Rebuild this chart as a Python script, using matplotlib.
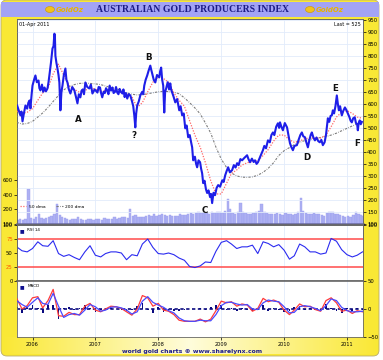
import numpy as np
import pandas as pd
import matplotlib
matplotlib.use("Agg")
import matplotlib.pyplot as plt
import matplotlib.dates as mdates
from matplotlib.patches import Rectangle, FancyBboxPatch, Ellipse
from matplotlib.lines import Line2D

plt.rcParams['path.simplify'] = False

# ---- data ----
price_dates = [
    '2005-10-04', '2005-10-12', '2005-10-23', '2005-10-29', '2005-11-04', '2005-11-12',
    '2005-11-21', '2005-12-01', '2005-12-08', '2005-12-15', '2005-12-20', '2005-12-27',
    '2006-01-01', '2006-01-10', '2006-01-18', '2006-01-26', '2006-02-05', '2006-02-10',
    '2006-02-16', '2006-02-25', '2006-03-04', '2006-03-12', '2006-03-20', '2006-03-29',
    '2006-04-04', '2006-04-09', '2006-04-18', '2006-04-27', '2006-05-03', '2006-05-08',
    '2006-05-11', '2006-05-14', '2006-05-20', '2006-05-26', '2006-06-01', '2006-06-06',
    '2006-06-12', '2006-06-18', '2006-06-24', '2006-07-02', '2006-07-11', '2006-07-17',
    '2006-07-23', '2006-07-31', '2006-08-09', '2006-08-20', '2006-09-01', '2006-09-10',
    '2006-09-19', '2006-09-27', '2006-10-06', '2006-10-13', '2006-10-20', '2006-10-27',
    '2006-11-04', '2006-11-15', '2006-11-27', '2006-12-06', '2006-12-15', '2006-12-28',
    '2007-01-13', '2007-01-20', '2007-01-28', '2007-02-03', '2007-02-10', '2007-02-18',
    '2007-02-25', '2007-03-04', '2007-03-11', '2007-03-18', '2007-03-25', '2007-04-02',
    '2007-04-10', '2007-04-17', '2007-04-25', '2007-05-01', '2007-05-08', '2007-05-15',
    '2007-05-22', '2007-05-29', '2007-06-07', '2007-06-13', '2007-06-20', '2007-06-27',
    '2007-07-05', '2007-07-14', '2007-07-23', '2007-08-02', '2007-08-09', '2007-08-15',
    '2007-08-21', '2007-08-26', '2007-09-01', '2007-09-10', '2007-09-19', '2007-09-30',
    '2007-10-06', '2007-10-12', '2007-10-20', '2007-10-29', '2007-11-07', '2007-11-16',
    '2007-11-22', '2007-11-27', '2007-12-06', '2007-12-15', '2007-12-25', '2008-01-07',
    '2008-01-12', '2008-01-18', '2008-01-24', '2008-01-30', '2008-02-05', '2008-02-10',
    '2008-02-16', '2008-02-25', '2008-03-04', '2008-03-11', '2008-03-16', '2008-03-22',
    '2008-03-30', '2008-04-09', '2008-04-20', '2008-05-02', '2008-05-10', '2008-05-19',
    '2008-05-28', '2008-06-06', '2008-06-14', '2008-06-23', '2008-07-02', '2008-07-10',
    '2008-07-16', '2008-07-22', '2008-08-01', '2008-08-08', '2008-08-14', '2008-08-22',
    '2008-08-31', '2008-09-06', '2008-09-12', '2008-09-18', '2008-09-26', '2008-10-04',
    '2008-10-11', '2008-10-19', '2008-10-28', '2008-11-03', '2008-11-09', '2008-11-17',
    '2008-11-26', '2008-12-05', '2008-12-14', '2008-12-25', '2009-01-07', '2009-01-15',
    '2009-01-24', '2009-02-01', '2009-02-10', '2009-02-20', '2009-03-05', '2009-03-15',
    '2009-03-25', '2009-04-03', '2009-04-12', '2009-04-22', '2009-05-02', '2009-05-15',
    '2009-05-31', '2009-06-08', '2009-06-17', '2009-06-28', '2009-07-08', '2009-07-16',
    '2009-07-25', '2009-08-02', '2009-08-15', '2009-08-31', '2009-09-08', '2009-09-18',
    '2009-09-29', '2009-10-10', '2009-10-19', '2009-10-28', '2009-11-05', '2009-11-16',
    '2009-11-26', '2009-12-03', '2009-12-08', '2009-12-16', '2009-12-25', '2010-01-05',
    '2010-01-18', '2010-01-26', '2010-02-04', '2010-02-12', '2010-02-21', '2010-03-02',
    '2010-03-16', '2010-03-26', '2010-04-05', '2010-04-14', '2010-04-22', '2010-05-02',
    '2010-05-10', '2010-05-19', '2010-05-28', '2010-06-04', '2010-06-11', '2010-06-20',
    '2010-06-29', '2010-07-08', '2010-07-18', '2010-07-27', '2010-08-05', '2010-08-14',
    '2010-08-24', '2010-09-01', '2010-09-06', '2010-09-12', '2010-09-20', '2010-09-28',
    '2010-10-05', '2010-10-11', '2010-10-18', '2010-10-26', '2010-11-03', '2010-11-09',
    '2010-11-15', '2010-11-22', '2010-12-02', '2010-12-10', '2010-12-20', '2010-12-28',
    '2011-01-06', '2011-01-15', '2011-01-22', '2011-01-29', '2011-02-06', '2011-02-15',
    '2011-02-22', '2011-03-01', '2011-03-05', '2011-03-10', '2011-03-16', '2011-03-22',
    '2011-03-28',
]
price_vals = [
    593, 575, 552, 568, 527, 560,
    593, 580, 605, 614, 581, 640,
    676, 700, 718, 690, 697, 665,
    656, 680, 650, 668, 652, 664,
    690, 718, 770, 830, 840, 892,
    885, 800, 770, 747, 720, 689,
    573, 650, 676, 720, 747, 700,
    689, 660, 643, 670, 656, 630,
    602, 640, 627, 655, 660, 640,
    689, 670, 664, 680, 643, 660,
    647, 670, 668, 645, 627, 650,
    645, 665, 656, 640, 676, 655,
    668, 645, 650, 670, 647, 640,
    662, 650, 643, 660, 628, 645,
    622, 640, 635, 610, 590, 552,
    502, 560, 593, 610, 635, 650,
    640, 676, 700, 718, 740, 759,
    740, 726, 700, 689, 720, 710,
    735, 751, 700, 676, 564, 650,
    664, 690, 660, 685, 660, 647,
    630, 606, 620, 573, 590, 552,
    560, 498, 510, 461, 470, 440,
    419, 365, 380, 350, 336, 365,
    357, 330, 311, 270, 280, 245,
    229, 240, 212, 225, 187, 230,
    220, 250, 262, 255, 282, 275,
    303, 320, 336, 315, 324, 345,
    335, 353, 345, 370, 365, 375,
    386, 370, 357, 372, 358, 365,
    350, 357, 380, 407, 425, 415,
    448, 440, 470, 481, 470, 505,
    519, 500, 523, 505, 490, 520,
    502, 470, 436, 420, 407, 425,
    428, 450, 470, 481, 465, 461,
    440, 419, 450, 470, 481, 460,
    448, 460, 445, 440, 450, 428,
    440, 470, 502, 540, 525, 550,
    552, 573, 560, 590, 635, 600,
    573, 590, 552, 570, 585, 575,
    560, 545, 530, 523, 540, 544,
    520, 515, 490, 520, 531, 515,
    525,
]

# monthly readings of the moving averages and indicators (Oct 2005 .. Apr 2011)
ma50 = [570, 560, 565, 580, 615, 645, 665, 725, 765, 720, 675, 660, 648, 655, 668, 660,
        652, 655, 660, 652, 648, 640, 630, 585, 605, 650, 690, 712, 705, 690, 645, 615,
        590, 530, 470, 419, 355, 280, 225, 225, 270, 310, 325, 345, 355, 360, 363, 385,
        410, 445, 470, 470, 450, 440, 445, 455, 458, 457, 458, 470, 505, 545, 565, 572,
        560, 545, 540]
ma200 = [523, 516, 518, 527, 545, 562, 585, 610, 635, 658, 672, 680, 685, 686, 685, 683,
         680, 674, 668, 664, 655, 646, 640, 637, 638, 642, 646, 650, 652, 651, 648, 642,
         625, 605, 583, 558, 520, 478, 420, 370, 335, 312, 300, 295, 294, 296, 303, 315,
         332, 355, 385, 405, 418, 430, 440, 447, 452, 456, 460, 464, 470, 478, 488, 498,
         508, 516, 522]
rsi = [61, 54, 52, 58, 70, 63, 62, 72, 49, 44, 47, 42, 38, 52, 63, 46,
       43, 49, 52, 52, 50, 38, 47, 45, 66, 75, 60, 49, 48, 50, 47, 41,
       37, 26, 24, 27, 34, 33, 53, 69, 72, 66, 58, 61, 61, 64, 49, 70,
       67, 61, 65, 55, 39, 45, 66, 61, 52, 52, 48, 50, 76, 71, 56, 47,
       43, 46, 52]
macd = [19, 0, 6, 20, 22, 2, 15, 35, -12, -13, -6, -10, -10, 5, 10, -2,
        -5, 0, 5, 4, 1, -5, -11, 0, 24, 20, 5, 10, -2, -4, -10, -20,
        -22, -22, -22, -18, -23, -18, -3, 14, 11, 13, 5, 9, 7, -4, 1, 19,
        13, 16, 12, -2, -10, -2, 9, 4, 5, -1, -4, 15, 20, 11, -4, -2,
        -8, -3, -5]
signal = [15, 8, 3, 12, 20, 10, 8, 28, 5, -15, -10, -8, -11, -2, 8, 4,
          -4, -2, 3, 4, 2, -2, -9, -5, 14, 22, 12, 7, 3, -3, -7, -16,
          -21, -22, -22, -20, -21, -21, -10, 6, 12, 12, 9, 7, 8, 0, -1, 11,
          16, 14, 13, 4, -7, -6, 4, 6, 4, 1, -3, 6, 18, 15, 3, -3,
          -5, -5, -4]

# half-monthly volume readings (Oct 2005 .. Apr 2011)
volume = [60, 70, 55, 65, 480, 80, 65, 90, 140, 85, 70, 80, 95, 110, 130, 280,
          120, 100, 80, 70, 60, 75, 65, 90, 70, 60, 55, 70, 65, 60, 75, 70,
          60, 80, 70, 65, 75, 90, 70, 85, 100, 90, 80, 210, 110, 120, 90, 95,
          100, 110, 120, 115, 130, 110, 120, 140, 125, 110, 120, 115, 105, 110, 130, 120,
          125, 140, 150, 130, 145, 160, 150, 170, 155, 140, 165, 150, 170, 160, 150, 180,
          340, 200, 150, 140, 160, 290, 170, 150, 140, 130, 150, 160, 180, 280, 170, 150,
          140, 130, 140, 150, 130, 120, 150, 140, 130, 120, 140, 170, 360, 180, 150, 130,
          140, 150, 130, 140, 120, 110, 150, 170, 160, 140, 130, 120, 110, 100, 110, 100,
          120, 165, 140, 120, 110]

vol_ticks = [0, 200, 400, 600]
vol_ticklabels = ['100', '200', '400', '600']
years = [2006, 2007, 2008, 2009, 2010, 2011]

marks = [('A', '2006-09-24', 535), ('B', '2007-11-08', 792), ('?', '2007-08-15', 469),
         ('C', '2008-09-30', 158), ('D', '2010-05-14', 378), ('E', '2010-10-27', 664),
         ('F', '2011-02-28', 436)]

# ---- figure ----
W, H = 383, 360
fig = plt.figure(figsize=(W / 100, H / 100), dpi=100)
fig.patch.set_facecolor('white')

bg = fig.add_axes([0, 0, 1, 1])
bg.set_xlim(0, W)
bg.set_ylim(H, 0)
bg.axis('off')
bg.add_patch(FancyBboxPatch((1, 0), 378, 356, boxstyle='round,pad=0,rounding_size=6',
                            facecolor='#f9e835', edgecolor='#b8ac70', lw=0.6))
grad = np.linspace(0, 1, 200)
grad = np.minimum(grad, 1 - grad) * 2
c0 = np.array([0.98, 0.91, 0.21])
c1 = np.array([1.0, 0.99, 0.86])
img = c0[None, None, :] + (c1 - c0)[None, None, :] * grad[None, :, None]
bg.imshow(img, extent=[3, 377, 354, 337], aspect='auto', zorder=1)
bg.add_patch(Rectangle((1, 2), 378, 15, facecolor='#a3a3f5', edgecolor='none', zorder=2))
bg.text(192, 10, 'AUSTRALIAN GOLD PRODUCERS INDEX', ha='center', va='center',
        fontsize=7, fontweight='bold', family='Liberation Serif', color='#1c1c86', zorder=3)
for lx in (50, 310):
    bg.add_patch(Ellipse((lx, 9.5), 9, 6, facecolor='#f2c21a', edgecolor='#c89600', lw=0.4, zorder=3))
    bg.text(lx + 6, 10, 'GoldOz', ha='left', va='center', fontsize=5, fontweight='bold',
            style='italic', color='#e8b400', zorder=3)
fig.text(192 / W, 1 - 352 / H, 'world gold charts \u00a9 www.sharelynx.com', ha='center',
         va='center', fontsize=4.4, fontweight='bold', color='#1c1c8c')

L, R = 17 / W, 346 / W
xmin, xmax = pd.Timestamp('2005-10-03'), pd.Timestamp('2011-04-04')
year_pos = [pd.Timestamp(f'{y}-01-01') for y in years]
grid_c = '#e2ebfb'

# main price panel with volume behind
vax = fig.add_axes([L, 1 - 224 / H, R, 205 / H])
ax = vax.twinx()
vax.set_facecolor('white')
ax.patch.set_visible(False)

vdates = pd.date_range('2005-10-01', periods=len(volume), freq='SMS')
vax.bar(vdates, volume, width=14, color='#aeb0f2', edgecolor='#9a9ef0', lw=0.3, align='edge')
vax.set_ylim(0, 2800)
vax.set_yticks(vol_ticks)
vax.set_yticklabels(vol_ticklabels)
vax.tick_params(axis='y', labelsize=3.8, length=2, width=0.5, pad=1)
for yp in year_pos:
    vax.axvline(yp, color=grid_c, lw=0.6, zorder=0)

pdates = pd.to_datetime(price_dates)
mdates_m = pd.date_range('2005-10-01', periods=len(ma50), freq='MS')
ax.plot(mdates_m, ma200, color='#7c7c7c', lw=0.8, ls=(0, (2, 1.2, 0.6, 1.2)), zorder=3)
ax.plot(mdates_m, ma50, color='#ff6868', lw=0.9, ls=(0, (1, 1.2)), zorder=3)
ax.plot(pdates, price_vals, color='#1e1ee8', lw=1.5, zorder=4)
ax.set_ylim(100, 953)
ax.set_yticks(range(100, 951, 50))
ax.grid(axis='y', color=grid_c, lw=0.6)
ax.tick_params(axis='y', labelsize=3.8, length=2, width=0.5, pad=1)
ax.set_xlim(xmin, xmax)
vax.set_xlim(xmin, xmax)
for a in (ax, vax):
    a.tick_params(axis='x', bottom=False, labelbottom=False)
    for s in a.spines.values():
        s.set_color('#666666')
        s.set_linewidth(0.6)
vax.spines['bottom'].set_color('#6a6a9e')
vax.spines['bottom'].set_linewidth(1.8)

for lab, d, v in marks:
    ax.text(pd.Timestamp(d), v, lab, ha='center', va='center', fontsize=6.3,
            fontweight='bold', color='#111111', zorder=5)
ax.text(0.006, 0.985, '01-Apr 2011', transform=ax.transAxes, ha='left', va='top', fontsize=3.5)
ax.text(0.994, 0.985, 'Last = 525', transform=ax.transAxes, ha='right', va='top', fontsize=3.5)
handles = [Line2D([], [], color='#ff6868', lw=0.9, ls=(0, (1, 1.2))),
           Line2D([], [], color='#7c7c7c', lw=0.8, ls=(0, (2, 1.2, 0.6, 1.2)))]
ax.legend(handles, ['50 dma', '200 dma'], loc='lower left', bbox_to_anchor=(0.0, 0.06),
          ncol=2, frameon=False, fontsize=3.2, handlelength=1.4, columnspacing=2.5,
          handletextpad=0.5, borderpad=0.2)

# RSI panel
rax = fig.add_axes([L, 1 - 281 / H, R, 56 / H])
rax.plot(mdates_m, rsi, color='#2b2bf0', lw=0.8, zorder=3)
rax.axhline(75, color='#ff4a4a', lw=1.1, zorder=2)
rax.axhline(25, color='#ff4a4a', lw=1.1, zorder=2)
rax.set_ylim(0, 100)
rax.set_xlim(xmin, xmax)
rax.set_yticks([0, 25, 50, 75, 100])
rax.tick_params(axis='y', labelsize=3.8, length=2, width=0.5, pad=1)
rax.tick_params(axis='x', bottom=False, labelbottom=False)
for t, c in zip(rax.get_yticklabels(), ['black', '#ff5a00', 'black', '#ff5a00', 'black']):
    t.set_color(c)
for yp in year_pos:
    rax.axvline(yp, color=grid_c, lw=0.6, zorder=0)
rax2 = rax.twinx()
rax2.set_ylim(0, 100)
rax2.set_yticks([100])
rax2.tick_params(axis='y', labelsize=3.8, length=2, width=0.5, pad=1)
rax.text(0.008, 0.95, '\u25a0', transform=rax.transAxes, ha='left', va='top', fontsize=3.5, color='#101090')
rax.text(0.03, 0.95, 'RSI 14', transform=rax.transAxes, ha='left', va='top', fontsize=3.0)

# MACD panel
max_ = fig.add_axes([L, 1 - 337 / H, R, 56 / H])
hist = np.array(macd) - np.array(signal)
max_.bar(mdates_m, hist, width=10, color='#0a0a80', zorder=2)
max_.axhline(0, color='#0a0a80', lw=1.2, ls=(0, (2, 1.5)), zorder=2)
max_.plot(mdates_m, macd, color='#ff3a3a', lw=0.9, zorder=3)
max_.plot(mdates_m, signal, color='#4a4aff', lw=0.9, zorder=3)
max_.set_ylim(-50, 50)
max_.set_xlim(xmin, xmax)
max_.yaxis.tick_right()
max_.set_yticks([-50, 0, 50])
max_.tick_params(axis='y', labelsize=3.8, length=2, width=0.5, pad=1)
max_.set_xticks(year_pos)
max_.xaxis.set_major_formatter(mdates.DateFormatter('%Y'))
max_.tick_params(axis='x', labelsize=3.6, length=2, width=0.5, pad=1.5)
for yp in year_pos:
    max_.axvline(yp, color=grid_c, lw=0.6, zorder=0)
max_.text(0.008, 0.95, '\u25a0', transform=max_.transAxes, ha='left', va='top', fontsize=3.5, color='#101090')
max_.text(0.03, 0.95, 'MACD', transform=max_.transAxes, ha='left', va='top', fontsize=3.0)

for a in (rax, rax2, max_):
    for s in a.spines.values():
        s.set_color('#666666')
        s.set_linewidth(0.6)
rax.spines['bottom'].set_linewidth(1.2)
rax.spines['bottom'].set_color('#555555')

fig.savefig('out.png', dpi=100)
